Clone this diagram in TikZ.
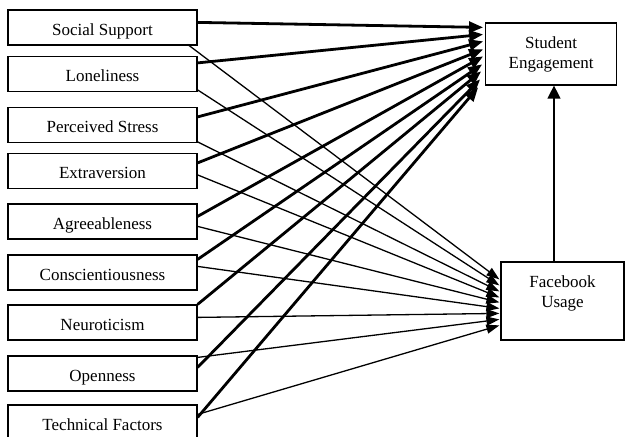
\documentclass[tikz,border=0pt]{standalone}
\usepackage{fontspec}
\setmainfont{Liberation Serif}
\usetikzlibrary{arrows.meta, calc}
\tikzset{
    BoxText/.style={font=\fontsize{17}{20}\selectfont},
    FactorBox/.style={draw=black, line width=1.2pt, minimum width=189pt, minimum height=35pt, inner sep=0pt, text height=15pt, text depth=0pt, BoxText},
    OutcomeBox/.style={draw=black, line width=1.2pt, inner sep=0pt, align=center, BoxText},
    ThickArrow/.style={-{Triangle[length=14pt, width=11pt]}, line width=2.8pt},
    ThinArrow/.style={-{Triangle[length=13pt, width=9pt]}, line width=1.3pt},
    UpArrow/.style={-{Triangle[length=13pt, width=13pt]}, line width=1.3pt}
}

\begin{document}
\begin{tikzpicture}[x=1pt, y=-1pt]
    \useasboundingbox (0,0) rectangle (625,437);

    % predictors on the left
    \foreach \nm/\yc/\txt in {ss/27.5/Social Support, lo/74/Loneliness, ps/125/Perceived Stress, ex/171/Extraversion, ag/221.5/Agreeableness, co/272.5/Conscientiousness, ne/322.5/Neuroticism, op/373.5/Openness, tf/422.5/Technical Factors} {
        \node[FactorBox] (\nm) at (102.5, \yc) {\txt};
    }

    % outcomes on the right
    \node[OutcomeBox, minimum width=131pt, minimum height=62pt, text height=45pt, text depth=17pt] (se) at (551.2, 54) {Student\\Engagement};
    \node[OutcomeBox, minimum width=123pt, minimum height=78pt, text height=45pt, text depth=33pt] (fb) at (562.5, 301) {Facebook\\Usage};

    % thick paths to Student Engagement
    \foreach \nm/\sy/\ex/\ey in {ss/13/-2/5, lo/7/-2/12, ps/10/-2/19, ex/10/-2/27, ag/13/-2/34, co/5/-3/42, ne/0/-4/49, op/12/-5/57, tf/13/-7/65} {
        \draw[ThickArrow] ([yshift=-\sy pt]\nm.north east) -- ([shift={(\ex,\ey)}]se.north west);
    }

    % thin paths to Facebook Usage
    \foreach \nm/\sx/\sy/\ey in {ss/-10/35/18, lo/0/34/24, ps/0/35/30, ex/0/22/36, ag/0/23/41, co/0/12/47, ne/0/13/52, op/0/2/58, tf/0/10/64} {
        \draw[ThinArrow] ([shift={(\sx,\sy)}]\nm.north east) -- ([shift={(-1,\ey)}]fb.north west);
    }

    \draw[UpArrow] ([xshift=-8.5pt]fb.north) -- ([xshift=-8.5pt]fb.north |- se.south);
\end{tikzpicture}
\end{document}
